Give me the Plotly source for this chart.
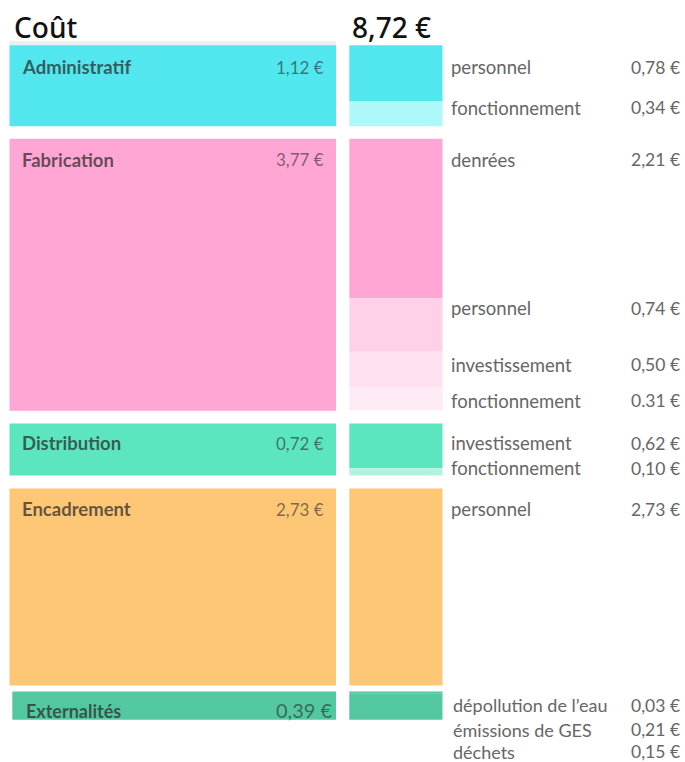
import plotly.graph_objects as go

# ---------------- data ----------------
categories = ["Administratif", "Fabrication", "Distribution", "Encadrement", "Externalités"]
totals = [1.12, 3.77, 0.72, 2.73, 0.39]
total_labels = ["1,12 €", "3,77 €", "0,72 €", "2,73 €", "0,39 €"]
grand_total_label = "8,72 €"
title_text = "Coût"

sub_labels = [
    ["personnel", "fonctionnement"],
    ["denrées", "personnel", "investissement", "fonctionnement"],
    ["investissement", "fonctionnement"],
    ["personnel"],
    ["dépollution de l’eau", "émissions de GES", "déchets"],
]
sub_values = [
    [0.78, 0.34],
    [2.21, 0.74, 0.50, 0.31],
    [0.62, 0.10],
    [2.73],
    [0.03, 0.21, 0.15],
]
sub_value_labels = [
    ["0,78 €", "0,34 €"],
    ["2,21 €", "0,74 €", "0,50 €", "0.31 €"],
    ["0,62 €", "0,10 €"],
    ["2,73 €"],
    ["0,03 €", "0,21 €", "0,15 €"],
]

# ---------------- styles / layout ----------------
W, H = 685, 762
PX_PER_EUR = 72.2          # vertical scale
TOP_PX = 45.3              # pixel top of first block
GAPS_PX = [12.5, 12.6, 13.0, 6.0]

cat_colors = ["#52E6EE", "#FFA6D4", "#5BE6BF", "#FDC776", "#53C8A0"]
sub_colors = [
    ["#52E6EE", "#AFF8FA"],
    ["#FFA6D4", "#FFD1E8", "#FFE0F1", "#FFEBF5"],
    ["#5BE6BF", "#B2F3DF"],
    ["#FDC776"],
    ["#53C8A0", "#53C8A0", "#53C8A0"],
]
# text offset (px) below each segment top for the right-hand labels
sub_text_dy = [
    [22, 6],
    [21, 10, 13, 13],
    [20, 0],
    [21],
    [13.5, 36, 43],
]

left_x = [(9.5, 336), (9.5, 336), (9.5, 336), (9.5, 336), (12.3, 336)]
right_x = (349.3, 442.5)

px = lambda p: p / PX_PER_EUR  # pixels -> € units

# group tops in € units
tops = []
cur = 0.0
for i, t in enumerate(totals):
    tops.append(cur)
    cur += t
    if i < len(GAPS_PX):
        cur += px(GAPS_PX[i])

fig = go.Figure()

# left blocks
fig.add_trace(go.Bar(
    x=[(a + b) / 2 for a, b in left_x],
    y=totals,
    base=tops,
    width=[b - a for a, b in left_x],
    marker=dict(color=cat_colors, line=dict(width=0)),
    hoverinfo="skip",
    showlegend=False,
))

# right stacked segments
rx, ry, rb, rc = [], [], [], []
seg_tops = []
for g, vals in enumerate(sub_values):
    s = tops[g]
    row = []
    for k, v in enumerate(vals):
        rx.append((right_x[0] + right_x[1]) / 2)
        ry.append(v)
        rb.append(s)
        rc.append(sub_colors[g][k])
        row.append(s)
        s += v
    seg_tops.append(row)

fig.add_trace(go.Bar(
    x=rx, y=ry, base=rb,
    width=[right_x[1] - right_x[0]] * len(rx),
    marker=dict(color=rc, line=dict(width=0)),
    hoverinfo="skip",
    showlegend=False,
))

FONT = "Lato"
annotations = []
# left labels
label_dy = [22, 21, 20, 21, 19]
for i, c in enumerate(categories):
    yy = tops[i] + px(label_dy[i])
    annotations.append(dict(
        x=left_x[i][0] + 10 if i < 4 else 24, y=yy, xref="x", yref="y",
        text=f"<b>{c}</b>", showarrow=False, xanchor="left", yanchor="middle",
        font=dict(family=FONT, size=18.5 if i < 4 else 18, color="rgba(40,40,40,0.72)"),
    ))
    annotations.append(dict(
        x=326 if i < 4 else 334, y=yy - (0 if i < 4 else px(1)), xref="x", yref="y",
        text=total_labels[i], showarrow=False, xanchor="right", yanchor="middle",
        font=dict(family=FONT, size=17 if i < 4 else 20, color="rgba(40,40,40,0.6)"),
    ))

# right labels
for g, labs in enumerate(sub_labels):
    for k, lab in enumerate(labs):
        yy = seg_tops[g][k] + px(sub_text_dy[g][k])
        fs = 18.5 if g < 4 else 18
        annotations.append(dict(
            x=449 if g < 4 else 451, y=yy, xref="x", yref="y",
            text=lab, showarrow=False, xanchor="left", yanchor="middle",
            font=dict(family=FONT, size=fs, color="#666666"),
        ))
        annotations.append(dict(
            x=682, y=yy, xref="x", yref="y",
            text=sub_value_labels[g][k], showarrow=False, xanchor="right", yanchor="middle",
            font=dict(family=FONT, size=17.5, color="#666666"),
        ))

# titles
annotations.append(dict(
    x=12, y=-px(TOP_PX - 27), xref="x", yref="y", text=title_text, showarrow=False,
    xanchor="left", yanchor="middle",
    font=dict(family="Noto Sans", size=28, color="#111111", weight=500),
))
annotations.append(dict(
    x=350, y=-px(TOP_PX - 27), xref="x", yref="y", text=grand_total_label, showarrow=False,
    xanchor="left", yanchor="middle",
    font=dict(family="Noto Sans", size=28, color="#111111", weight=500),
))

shapes = [dict(
    type="rect", xref="x", yref="y", x0=9.5, x1=336, y0=-px(4.3), y1=0,
    fillcolor="#EEEEEE", line=dict(width=0), layer="below",
)]

fig.update_layout(
    width=W, height=H,
    margin=dict(l=0, r=0, t=0, b=0),
    paper_bgcolor="white", plot_bgcolor="white",
    barmode="overlay",
    xaxis=dict(range=[0, W], visible=False, fixedrange=True),
    yaxis=dict(range=[px(H - TOP_PX), -px(TOP_PX)], visible=False, fixedrange=True),
    annotations=annotations,
    shapes=shapes,
)

fig.write_html(
    "out.html",
    config={"displayModeBar": False},
    post_script="document.body.style.margin='0';document.body.style.overflow='hidden';",
)
